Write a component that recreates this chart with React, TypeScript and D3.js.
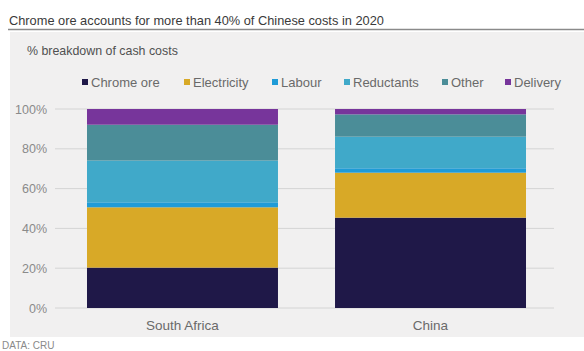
import React from "react";
import * as d3 from "d3";

const categories = ["South Africa", "China"];
const seriesNames = ["Chrome ore", "Electricity", "Labour", "Reductants", "Other", "Delivery"];
const southAfrica = [20.3, 30.3, 2.5, 21, 18, 7.9];
const china = [45.4, 22.6, 2.2, 15.9, 11.2, 2.7];
const seriesColors = ["#1f1848", "#d8a927", "#1f9bd7", "#40a9c9", "#4b8d98", "#77359b"];
const yTicks = [0, 20, 40, 60, 80, 100];
const legendX = [85, 187, 275, 347, 445, 508];

export default function App() {
  const W = 584, H = 351;
  const font = "'Liberation Sans', Arial, sans-serif";
  const x = d3.scaleBand<string>().domain(categories).range([55, 558]).paddingInner(0.23).paddingOuter(0.129);
  const y = d3.scaleLinear().domain([0, 100]).range([308, 109]);
  const rows = [southAfrica, china];
  const table = categories.map((c, i) => {
    const o: any = { cat: c };
    seriesNames.forEach((s, j) => (o[s] = rows[i][j]));
    return o;
  });
  const stacked = d3.stack<any>().keys(seriesNames)(table);

  return (
    <svg width={W} height={H} style={{ position: "absolute", left: 0, top: 0, background: "#fff" }} fontFamily={font}>
      <rect x={0} y={0} width={W} height={H} fill="#ffffff" />
      <text x={9} y={25} fontSize={12.8} fill="#3a3a3a">Chrome ore accounts for more than 40% of Chinese costs in 2020</text>
      <line x1={8} x2={584} y1={29.5} y2={29.5} stroke="#8a8a8a" strokeWidth={1.5} />
      <rect x={10} y={32} width={574} height={305} fill="#f1f0f0" />
      <text x={27} y={55} fontSize={12.4} fill="#505050">% breakdown of cash costs</text>
      {seriesNames.map((s, i) => (
        <g key={s}>
          <rect x={legendX[i] - 3} y={79} width={6} height={6} fill={seriesColors[i]} />
          <text x={legendX[i] + 6} y={86.5} fontSize={13} fill="#6a6a6a">{s}</text>
        </g>
      ))}
      {yTicks.map((t) => (
        <g key={t}>
          <line x1={55} x2={554} y1={y(t)} y2={y(t)} stroke="#d4d4d4" strokeWidth={1} />
          <text x={47} y={y(t) + 4.5} fontSize={12.5} fill="#8a8a8a" textAnchor="end">{t}%</text>
        </g>
      ))}
      {stacked.map((layer, i) => (
        <g key={layer.key} fill={seriesColors[i]}>
          {layer.map((d: any) => (
            <rect key={d.data.cat} x={x(d.data.cat)} y={y(d[1])} width={x.bandwidth()} height={y(d[0]) - y(d[1])} />
          ))}
        </g>
      ))}
      {categories.map((c) => (
        <text key={c} x={(x(c) as number) + x.bandwidth() / 2} y={330} fontSize={13.5} fill="#6a6a6a" textAnchor="middle">{c}</text>
      ))}
      <text x={2} y={349} fontSize={10} fill="#8a8a8a">DATA: CRU</text>
    </svg>
  );
}
